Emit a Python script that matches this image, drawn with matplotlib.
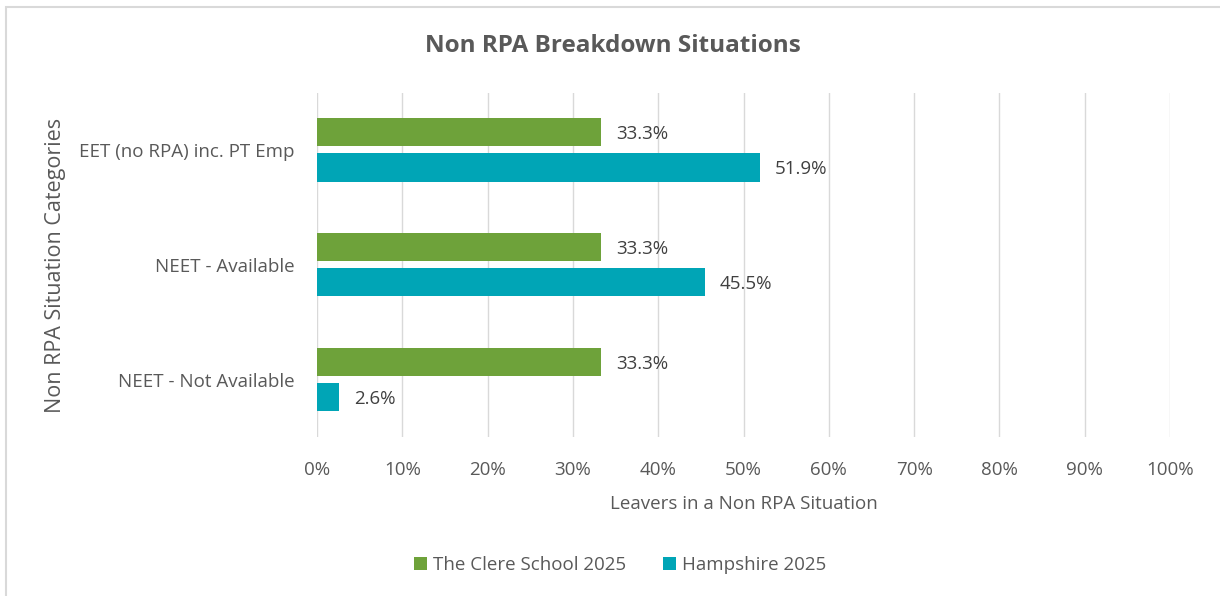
import matplotlib
matplotlib.use("Agg")
import matplotlib.pyplot as plt
from matplotlib.patches import Rectangle
import numpy as np

categories = ["EET (no RPA) inc. PT Emp", "NEET - Available", "NEET - Not Available"]
clere_2025 = [33.3, 33.3, 33.3]
hampshire_2025 = [51.9, 45.5, 2.6]
series_names = ["The Clere School 2025", "Hampshire 2025"]
xticks = list(range(0, 101, 10))
xtick_labels = [f"{t}%" for t in xticks]

green = "#6EA23A"
teal = "#00A5B6"
text_col = "#595959"

plt.rcParams['font.family'] = ['Open Sans', 'DejaVu Sans']

fig = plt.figure(figsize=(12.2, 5.96), dpi=100)
ax = fig.add_axes([317/1220, 1-437/596, (1170-317)/1220, (437-92.5)/596])

y = np.arange(len(categories))
h = 0.245
off = 0.153
b1 = ax.barh(y - off, clere_2025, height=h, color=green, label=series_names[0], zorder=3)
b2 = ax.barh(y + off, hampshire_2025, height=h, color=teal, label=series_names[1], zorder=3)

for bars, vals in ((b1, clere_2025), (b2, hampshire_2025)):
    for bar, v in zip(bars, vals):
        ax.annotate(f"{v:.1f}%", (v, bar.get_y() + bar.get_height()/2),
                    xytext=(15, -2), textcoords="offset pixels",
                    va="center", ha="left", fontsize=13.5, color="#404040")

ax.set_xlim(0, 100)
ax.set_ylim(len(categories) - 0.5, -0.5)
ax.set_xticks(xticks)
ax.set_xticklabels(xtick_labels)
ax.set_yticks(y)
ax.set_yticklabels(categories)
ax.tick_params(axis="both", length=0, labelsize=13.5, colors=text_col)
ax.tick_params(axis="x", pad=17)
ax.tick_params(axis="y", pad=16)
ax.grid(axis="x", color="#D9D9D9", linewidth=1, zorder=0)
ax.grid(axis="y", visible=False)
for s in ax.spines.values():
    s.set_visible(False)

ax.set_xlabel("Leavers in a Non RPA Situation", fontsize=13.5, color=text_col, labelpad=12)
fig.text(55/1220, 1-265/596, "Non RPA Situation Categories", rotation=90,
         ha="center", va="center", fontsize=15.5, color=text_col)
fig.text(613/1220, 1-46/596, "Non RPA Breakdown Situations", ha="center", va="center",
         fontsize=17.5, fontweight="bold", color=text_col)

leg = fig.legend(handles=[b1, b2], labels=series_names, loc="center",
                 bbox_to_anchor=(620/1220, 1-565/596), ncol=2, frameon=False,
                 fontsize=13.5, handlelength=0.7, handleheight=0.7, handletextpad=0.3,
                 columnspacing=2.0)
for t in leg.get_texts():
    t.set_color(text_col)

border = Rectangle((6/1220, -0.01), 1.2, 1 - 7/596 + 0.01, transform=fig.transFigure,
                   fill=False, edgecolor="#D9D9D9", linewidth=1.5)
fig.add_artist(border)

fig.savefig("out.png", dpi=100)
